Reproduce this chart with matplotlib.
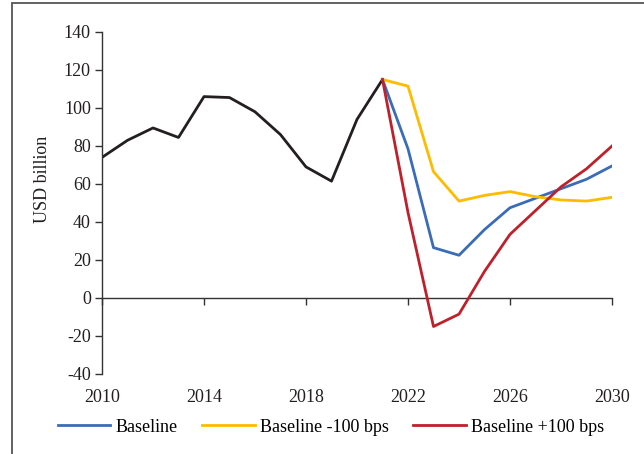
import numpy as np
import matplotlib.pyplot as plt
from matplotlib.patches import Rectangle

plt.rcParams['font.family'] = ['Liberation Serif', 'DejaVu Serif']

hist_years = list(range(2010, 2022))
hist_values = [74, 83, 89.5, 84.5, 106, 105.5, 98, 86, 69, 61.5, 94, 115]

proj_years = list(range(2021, 2031))
baseline = [115, 78.5, 26.5, 22.5, 36, 47.5, 52.5, 57.5, 62.5, 69.5]
minus_100 = [115, 111.5, 66.5, 51, 54, 56, 53.3, 51.6, 51, 53]
plus_100 = [115, 45, -15, -8.5, 14, 33.5, 46, 58.5, 68, 80]

x_ticks = [2010, 2014, 2018, 2022, 2026, 2030]
y_ticks = [-40, -20, 0, 20, 40, 60, 80, 100, 120, 140]

fs = 13
fig = plt.figure(figsize=(6.44, 4.54), dpi=100)
ax = fig.add_axes([102 / 644, 1 - 374 / 454, 510 / 644, 342 / 454])

# frame round the whole chart
fig.patches.append(Rectangle((12 / 644, -0.1), 1.2, 1 - 3 / 454 + 0.1,
                             transform=fig.transFigure, fill=False,
                             edgecolor='#555555', linewidth=1.3))

lw = 2.0
ax.plot(hist_years, hist_values, color='#231f20', lw=lw)
ax.plot(proj_years, baseline, color='#3a6cb8', lw=lw, label='Baseline')
ax.plot(proj_years, minus_100, color='#ffbb00', lw=lw, label='Baseline -100 bps')
ax.plot(proj_years, plus_100, color='#c0202a', lw=lw, label='Baseline +100 bps')

ax.set_xlim(2010, 2030)
ax.set_ylim(-40, 140)
ax.set_yticks(y_ticks)
ax.set_yticklabels([str(v) for v in y_ticks])
ax.set_xticks(x_ticks)

for s in ['top', 'right', 'bottom']:
    ax.spines[s].set_visible(False)
ax.spines['left'].set_color('#333333')
ax.spines['left'].set_linewidth(1.0)
ax.tick_params(axis='y', direction='out', length=5, width=1.0,
               color='#333333', labelsize=fs, pad=3, labelcolor='#231f20')
ax.tick_params(axis='x', length=0, labelsize=fs, pad=11, labelcolor='#231f20')

# zero line with ticks
zero_pos = (0 - (-40)) / 180
sec = ax.secondary_xaxis(zero_pos)
sec.set_xticks(x_ticks)
sec.tick_params(axis='x', direction='out', length=5, width=1.0,
                color='#333333', labelbottom=False, labeltop=False)
sec.spines['bottom'].set_color('#333333')
sec.spines['bottom'].set_linewidth(1.0)
sec.xaxis.set_ticks_position('bottom')
sec.set_xticklabels([])

ax.set_ylabel('USD billion', fontsize=fs, color='#231f20')
ax.yaxis.set_label_coords(-0.1, 0.57)

fig.legend(loc='center', bbox_to_anchor=(331 / 644, 1 - 427 / 454), ncol=3,
           frameon=False, fontsize=fs, handlelength=2.9, handletextpad=0.3,
           columnspacing=1.35)

fig.savefig('out.png', dpi=100)
